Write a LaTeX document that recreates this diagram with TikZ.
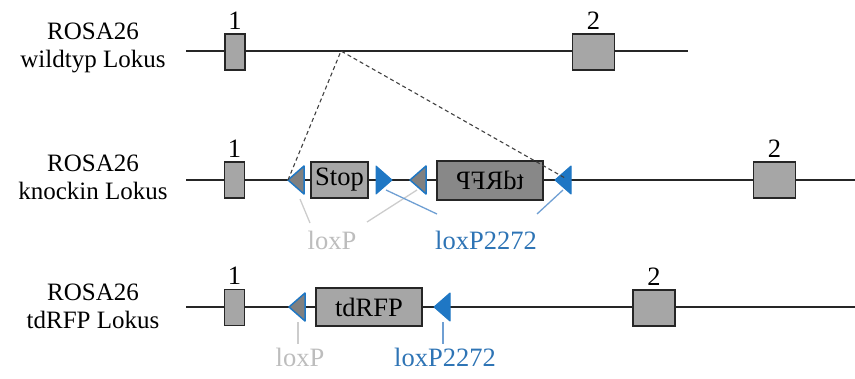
\documentclass[tikz,border=0pt]{standalone}
\usepackage{fontspec}
\setmainfont{Liberation Serif}
\definecolor{exgray}{HTML}{A6A6A6}
\definecolor{revgray}{HTML}{888888}
\definecolor{loxgray}{HTML}{808080}
\definecolor{loxblue}{HTML}{1F77C4}
\definecolor{lblgray}{HTML}{BDBDBD}
\definecolor{lblblue}{HTML}{2E74B5}
\definecolor{leadgray}{HTML}{CCCCCC}
\definecolor{leadblue}{HTML}{6F9FD3}
\tikzset{
  big/.style={font=\fontsize{25}{28}\selectfont},
  inner/.style={font=\fontsize{26.5}{28}\selectfont},
  backbone/.style={line width=1.5pt, black!85},
  exon/.style={draw=black!85, line width=1.5pt, fill=exgray, minimum height=36pt, inner sep=0pt},
  genebox/.style={draw=black!85, line width=1.5pt, fill=exgray, inner sep=0pt, inner},
  exnum/.style={inner, inner sep=0pt, anchor=south},
  rowlabel/.style={big, align=center, inner sep=0pt},
  loxp/.style={fill=loxgray, draw=loxblue, line width=1.5pt, line join=round},
  lox2272/.style={fill=loxblue, draw=loxblue, line width=1pt, line join=round},
  lgray/.style={inner, text=lblgray, inner sep=0pt},
  lblue/.style={inner, text=lblblue, inner sep=0pt},
  leadg/.style={draw=leadgray, line width=1.3pt},
  leadb/.style={draw=leadblue, line width=1.3pt}
}
\begin{document}
\begin{tikzpicture}[x=1pt, y=-1pt]
\useasboundingbox (0,0) rectangle (855,378);

% ---------- Row 1: wildtype ----------
\node[rowlabel] (lab1) at (93,48) {ROSA26\\wildtyp Lokus};
\coordinate (r1a) at (186,51);
\coordinate (r1b) at (688,51);
\coordinate (ins) at (341,51);
\draw[backbone] (r1a) -- (r1b);
\node[exon, minimum width=20pt] (e11) at (235,52) {};
\node[exon, minimum width=42pt] (e12) at (593.5,52) {};
\node[exnum] (n11) at ([yshift=4pt]e11.north) {1};
\node[exnum] (n12) at ([yshift=4pt]e12.north) {2};

% ---------- Row 2: knockin ----------
\node[rowlabel] (lab2) at (93,177) {ROSA26\\knockin Lokus};
\coordinate (r2a) at (186,180);
\coordinate (r2b) at (855,180);
\draw[backbone] (r2a) -- (r2b);
\node[exon, minimum width=20pt] (e21) at (234.5,180) {};
\node[exon, minimum width=42pt] (e22) at (774.5,180) {};
\node[exnum] (n21) at ([yshift=4pt]e21.north) {1};
\node[exnum] (n22) at ([yshift=4pt]e22.north) {2};
\node[genebox, minimum width=57pt, minimum height=36pt] (stop) at (339.5,180) {Stop};
\node[genebox, fill=revgray, minimum width=106pt, minimum height=39pt] (rfprev) at (490,180.5) {\scalebox{-1}[1]{tdRFP}};

% triangles row 2
\coordinate (t1) at (288,180);
\filldraw[loxp] (t1) -- (304,166) -- (304,194) -- cycle;
\coordinate (t2) at (392,180);
\filldraw[lox2272] (t2) -- (376,166) -- (376,194) -- cycle;
\coordinate (t3) at (410,180);
\filldraw[loxp] (t3) -- (426,166) -- (426,194) -- cycle;
\coordinate (t4) at (555,180);
\filldraw[lox2272] (t4) -- (571,166) -- (571,194) -- cycle;
\coordinate (t4d) at (565,178);

% dashed insertion lines
\draw[line width=1.1pt, black!75, dash pattern=on 4pt off 3pt] (t1) -- (ins) -- (t4d);

% labels row 2
\node[lgray] (lx2) at (332,240) {loxP};
\node[lblue] (lb2) at (486,240) {loxP2272};
\draw[leadg] (310,223) -- (300,199);
\draw[leadg] (367,222) -- (417,190);
\draw[leadb] (386,190) -- (437,214);
\draw[leadb] (537,214) -- (563,190);

% ---------- Row 3: tdRFP ----------
\node[rowlabel] (lab3) at (93,306) {ROSA26\\tdRFP Lokus};
\coordinate (r3a) at (186,307);
\coordinate (r3b) at (855,307);
\draw[backbone] (r3a) -- (r3b);
\node[exon, minimum width=20pt] (e31) at (234.5,307.5) {};
\node[exon, minimum width=42pt] (e32) at (654,308) {};
\node[exnum] (n31) at ([yshift=4pt]e31.north) {1};
\node[exnum] (n32) at ([yshift=4pt]e32.north) {2};
\node[genebox, minimum width=106pt, minimum height=38pt] (rfp) at (369,307) {tdRFP};
\coordinate (u1) at (289,307);
\filldraw[loxp] (u1) -- (305,293) -- (305,321) -- cycle;
\coordinate (u2) at (434,307);
\filldraw[lox2272] (u2) -- (450,293) -- (450,321) -- cycle;

\node[lgray] (lx3) at (300,357) {loxP};
\node[lblue] (lb3) at (445,357) {loxP2272};
\draw[leadg] (298,322) -- (298,344);
\draw[leadb] (443,322) -- (443,344);
\end{tikzpicture}
\end{document}
